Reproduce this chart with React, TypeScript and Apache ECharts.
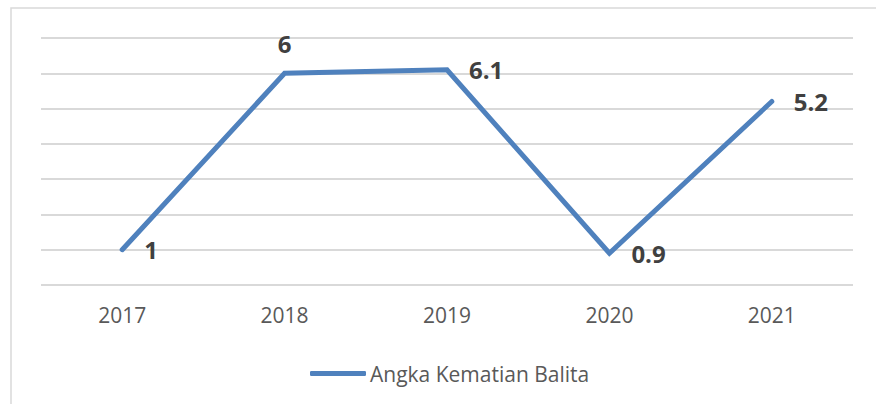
import React, { useEffect, useRef } from "react";
import * as echarts from "echarts";

const categories = ["2017", "2018", "2019", "2020", "2021"];
const values = [1, 6, 6.1, 0.9, 5.2];
const labelPositions = ["right", "top", "right", "right", "right"];
const seriesName = "Angka Kematian Balita";

export default function App() {
  const ref = useRef<HTMLDivElement>(null);
  useEffect(() => {
    const chart = echarts.init(ref.current!, null, { renderer: "svg" });
    const font = "'Open Sans', 'Noto Sans', sans-serif";
    chart.setOption({
      animation: false,
      backgroundColor: "#ffffff",
      textStyle: { fontFamily: font },
      graphic: [
        {
          type: "rect",
          shape: { x: 11, y: 8, width: 1000, height: 500 },
          style: { fill: "none", stroke: "#d9d9d9", lineWidth: 1.5 },
          z: -1,
        },
      ],
      grid: { left: 41, right: 23, top: 38, bottom: 119 },
      legend: {
        left: 305,
        top: 358,
        icon: "roundRect",
        itemWidth: 56,
        itemHeight: 5,
        itemGap: 4,
        textStyle: { fontSize: 21, color: "#595959", fontFamily: font, padding: [0, 0, 0, -1] },
        data: [seriesName],
      },
      xAxis: {
        type: "category",
        data: categories,
        boundaryGap: true,
        axisLine: { show: false },
        axisTick: { show: false },
        axisLabel: { fontSize: 21, color: "#595959", margin: 19, fontFamily: font },
      },
      yAxis: {
        type: "value",
        min: 0,
        max: 7,
        interval: 1,
        axisLabel: { show: false },
        axisLine: { show: false },
        axisTick: { show: false },
        splitLine: { lineStyle: { color: "#d9d9d9", width: 2 } },
      },
      series: [
        {
          name: seriesName,
          type: "line",
          symbol: "circle",
          symbolSize: 2,
          showSymbol: true,
          data: values.map((v, i) => ({
            value: v,
            label: {
              position: labelPositions[i],
              distance: labelPositions[i] === "top" ? 17 : 21,
            },
          })),
          lineStyle: { color: "#4f81bd", width: 5, cap: "round", join: "miter" },
          itemStyle: { color: "#4f81bd" },
          label: {
            show: true,
            fontSize: 24,
            fontWeight: "bold",
            color: "#404040",
            distance: 21,
            fontFamily: font,
          },
        },
      ],
    });
    return () => chart.dispose();
  }, []);
  return (
    <div
      ref={ref}
      style={{ position: "fixed", left: 0, top: 0, width: 876, height: 404 }}
    />
  );
}
